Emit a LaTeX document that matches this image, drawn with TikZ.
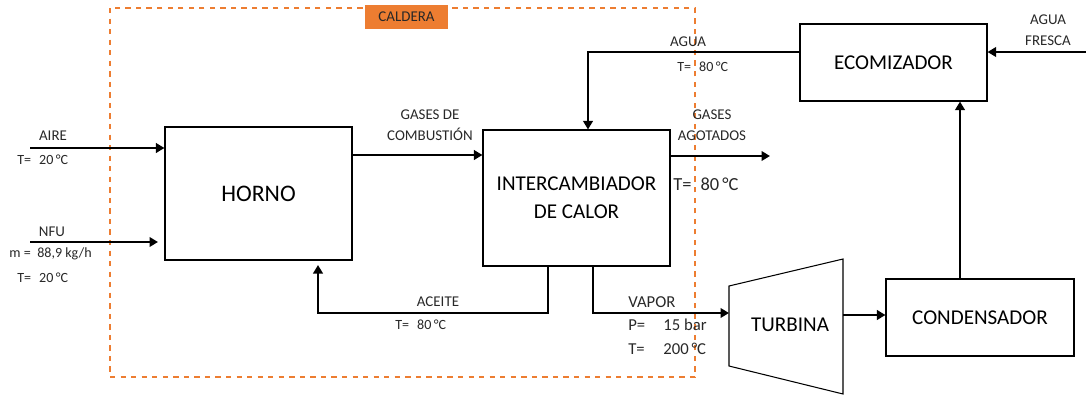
\documentclass[tikz,border=0pt]{standalone}
\usepackage{fontspec}
\setmainfont{Carlito}
\usepackage{tikz}
\usetikzlibrary{positioning,arrows.meta,calc}
\usepackage{xcolor}
\definecolor{CalderaOrange}{RGB}{237,125,49}
\definecolor{DarkText}{RGB}{40,40,40}

\begin{document}
\begin{tikzpicture}[
    unit/.style={rectangle, draw=black, line width=0.6pt, fill=white,
                 align=center, font=\fontsize{12}{16}\selectfont},
    flow/.style={-{Triangle[length=1.7mm, width=1.9mm]}, line width=1.4pt},
    lbl/.style={font=\fontsize{8.5}{12}\selectfont, inner sep=0pt, text=DarkText},
    tiny/.style={font=\fontsize{8}{9}\selectfont, inner sep=0pt, anchor=west, text=DarkText}
]
    \useasboundingbox (0,0) rectangle (21.72,7.9);

    % caldera boundary
    \draw[CalderaOrange, dashed, line width=0.6pt] (2.2,7.74) rectangle (13.9,0.36);
    \node[fill=CalderaOrange, minimum width=1.66cm, minimum height=0.48cm, inner sep=0pt,
          font=\fontsize{8.5}{10}\selectfont, text=DarkText] (caldera) at (8.13,7.56) {CALDERA};

    % units
    \node[unit, minimum width=3.74cm, minimum height=2.66cm,
          font=\fontsize{13.5}{16}\selectfont] (horno) at (5.17,4.03) {HORNO};
    \node[unit, minimum width=3.74cm, minimum height=2.72cm] (interc) at (11.53,3.94) {INTERCAMBIADOR\\DE CALOR};
    \node[unit, minimum width=3.74cm, minimum height=1.54cm] (ecom) at (17.87,6.65) {ECOMIZADOR};
    \node[unit, minimum width=3.76cm, minimum height=1.54cm] (cond) at (19.6,1.55) {CONDENSADOR};

    % turbina
    \coordinate (tA) at (14.58,2.18);
    \coordinate (tB) at (16.86,2.72);
    \coordinate (tC) at (16.86,0.02);
    \coordinate (tD) at (14.58,0.58);
    \draw[line width=0.6pt] (tA) -- (tB) -- (tC) -- (tD) -- cycle;
    \node[font=\fontsize{12}{14}\selectfont] (turb) at (15.8,1.4) {TURBINA};

    % free ends
    \coordinate (aireIn) at (0.6,4.94);
    \coordinate (nfuIn)  at (0.6,3.06);
    \coordinate (nfuEnd) at (3.16,3.06);
    \coordinate (gasOut) at (15.4,4.78);
    \coordinate (frescaIn) at (21.72,6.86);
    \coordinate (aguaBend) at (11.76,6.86);
    \coordinate (vapTop) at (11.86,2.58);
    \coordinate (vapBend) at (11.86,1.64);
    \coordinate (turbIn) at (14.58,1.64);
    \coordinate (turbOut) at (16.86,1.6);
    \coordinate (aceTop) at (10.96,2.58);
    \coordinate (aceBend) at (10.96,1.64);
    \coordinate (aceLeft) at (6.36,1.64);
    \coordinate (aceEnd) at (6.36,2.6);

    % connectors
    \draw[flow] (aireIn) -- (aireIn -| horno.west);
    \draw[flow] (nfuIn) -- (nfuEnd);
    \draw[flow] (horno.east |- 0,4.8) -- (interc.west |- 0,4.8);
    \draw[flow] (interc.east |- gasOut) -- (gasOut);
    \draw[flow] (ecom.west |- aguaBend) -- (aguaBend) -- (aguaBend |- interc.north);
    \draw[flow] (frescaIn) -- (frescaIn -| ecom.east);
    \draw[flow] (cond.north -| 19.2,0) -- (ecom.south -| 19.2,0);
    \draw[flow] (vapTop |- interc.south) -- (vapBend) -- (turbIn);
    \draw[flow] (turbOut) -- (turbOut -| cond.west);
    \draw[flow] (aceTop |- interc.south) -- (aceBend) -- (aceLeft) -- (aceEnd);

    % labels
    \node[lbl] (aireL) at (1.06,5.18) {AIRE};
    \node[tiny] (aireT) at (0.34,4.7) {T=\hspace{1.6mm}20\,°C};
    \node[lbl] (nfuL) at (1.04,3.26) {NFU};
    \node[tiny] (nfuM) at (0.18,2.82) {m =\hspace{1.3mm}88,9 kg/h};
    \node[tiny] (nfuT) at (0.34,2.34) {T=\hspace{1.6mm}20\,°C};
    \node[lbl, align=center] (combL) at (8.6,5.4) {GASES DE\\COMBUSTIÓN};
    \node[lbl, align=center] (agotL) at (14.24,5.4) {GASES\\AGOTADOS};
    \node[lbl, anchor=west, font=\fontsize{10.5}{12}\selectfont] (agotT) at (13.46,4.22) {T=\hspace{1.8mm}80\,°C};
    \node[lbl] (aguaL) at (13.76,7.06) {AGUA};
    \node[tiny] (aguaT) at (13.54,6.56) {T=\hspace{1.6mm}80\,°C};
    \node[lbl, align=center] (frescaL) at (20.96,7.3) {AGUA\\FRESCA};
    \node[lbl] (aceL) at (8.76,1.86) {ACEITE};
    \node[tiny] (aceT) at (7.9,1.4) {T=\hspace{1.6mm}80\,°C};
    \node[lbl, anchor=west, font=\fontsize{9.5}{12}\selectfont] (vapL) at (12.56,1.86) {VAPOR};
    \node[lbl, anchor=west, font=\fontsize{9.5}{12}\selectfont] (vapP) at (12.56,1.4) {\makebox[7mm][l]{P=}15 bar};
    \node[lbl, anchor=west, font=\fontsize{9.5}{12}\selectfont] (vapT) at (12.56,0.92) {\makebox[7mm][l]{T=}200\,°C};
\end{tikzpicture}
\end{document}
